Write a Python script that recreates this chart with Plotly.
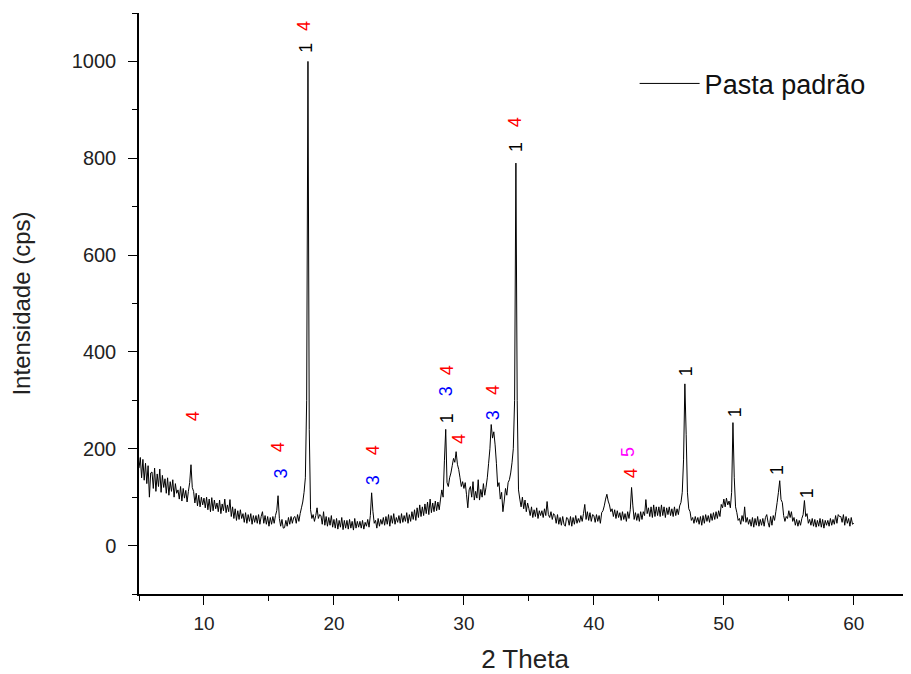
import numpy as np
import plotly.graph_objects as go

# 2-theta grid (0.1 deg step, 5.0 .. 60.0)
two_theta = np.round(np.arange(5.0, 60.0001, 0.1), 1)

# Intensity (cps), one row per degree
intensity = [
    160, 182, 140, 178, 135, 170, 128, 165, 100, 150,    # 5
    152, 118, 160, 112, 148, 122, 158, 110, 145, 120,    # 6
    138, 108, 140, 104, 132, 112, 136, 100, 128, 108,    # 7
    115, 96, 122, 92, 118, 98, 114, 90, 112, 130,        # 8
    167, 120, 112, 88, 108, 82, 104, 80, 100, 84,        # 9
    98, 78, 100, 74, 96, 70, 99, 72, 94, 76,             # 10
    88, 70, 94, 66, 86, 72, 96, 68, 84, 70,              # 11
    95, 60, 80, 56, 76, 52, 72, 54, 74, 56,              # 12
    66, 48, 68, 46, 64, 50, 66, 44, 62, 48,              # 13
    62, 46, 64, 44, 60, 70, 46, 62, 44, 60,              # 14
    40, 58, 44, 60, 46, 62, 72, 103, 56, 40,             # 15
    54, 36, 37, 52, 40, 58, 44, 60, 46, 58,              # 16
    60, 46, 64, 50, 66, 78, 90, 110, 140, 300,           # 17
    1000, 240, 74, 56, 64, 50, 62, 78, 56, 64,           # 18
    62, 44, 70, 42, 60, 40, 58, 42, 62, 38,              # 19
    54, 36, 56, 34, 52, 38, 58, 33, 52, 36,              # 20
    52, 34, 54, 36, 50, 32, 56, 36, 50, 38,              # 21
    50, 36, 52, 34, 48, 40, 54, 38, 62, 109,             # 22
    70, 46, 52, 36, 56, 40, 54, 44, 58, 42,              # 23
    60, 44, 64, 40, 62, 46, 66, 44, 58, 48,              # 24
    62, 46, 66, 48, 62, 50, 68, 46, 64, 50,              # 25
    70, 54, 74, 52, 78, 58, 84, 60, 80, 62,              # 26
    86, 66, 90, 64, 96, 68, 88, 70, 92, 72,              # 27
    90, 74, 96, 115, 100, 175, 240, 130, 122, 140,       # 28
    150, 165, 180, 172, 194, 168, 157, 140, 122, 132,    # 29
    118, 130, 105, 78, 115, 122, 100, 132, 94, 112,      # 30
    98, 136, 94, 116, 100, 128, 104, 120, 140, 170,      # 31
    200, 250, 222, 235, 208, 170, 122, 130, 96, 110,     # 32
    70, 92, 118, 104, 130, 136, 150, 171, 200, 300,      # 33
    790, 300, 115, 96, 80, 100, 76, 94, 70, 88,          # 34
    76, 62, 80, 58, 74, 60, 78, 56, 72, 62,              # 35
    72, 58, 76, 62, 91, 64, 58, 70, 54, 66,              # 36
    62, 46, 64, 44, 58, 42, 60, 44, 40, 58,              # 37
    56, 42, 60, 40, 58, 44, 62, 46, 56, 48,              # 38
    62, 50, 66, 85, 54, 70, 52, 68, 50, 64,              # 39
    62, 48, 64, 50, 62, 46, 68, 72, 82, 96,              # 40
    106, 92, 84, 70, 76, 60, 74, 56, 72, 58,             # 41
    68, 52, 70, 54, 66, 50, 70, 56, 74, 120,             # 42
    82, 54, 68, 52, 66, 50, 70, 54, 70, 62,              # 43
    95, 66, 78, 60, 80, 58, 84, 60, 80, 62,              # 44
    80, 60, 84, 62, 80, 58, 78, 64, 80, 62,              # 45
    76, 60, 80, 62, 76, 64, 82, 89, 110, 177,            # 46
    334, 230, 109, 76, 70, 52, 58, 46, 60, 48,           # 47
    58, 44, 60, 42, 62, 46, 64, 50, 62, 48,              # 48
    66, 52, 68, 54, 70, 56, 72, 60, 85, 78,              # 49
    96, 80, 98, 84, 92, 78, 110, 254, 140, 80,           # 50
    68, 52, 56, 44, 62, 50, 80, 48, 58, 44,              # 51
    54, 40, 58, 38, 56, 42, 60, 40, 54, 42,              # 52
    56, 40, 58, 64, 48, 38, 60, 42, 62, 52,              # 53
    70, 89, 110, 134, 95, 89, 62, 50, 60, 56,            # 54
    72, 58, 70, 50, 58, 42, 54, 40, 52, 42,              # 55
    56, 64, 93, 60, 66, 46, 54, 42, 56, 40,              # 56
    54, 38, 52, 40, 56, 38, 54, 36, 52, 42,              # 57
    52, 40, 56, 42, 54, 44, 62, 46, 64, 60,              # 58
    60, 48, 64, 42, 60, 46, 56, 40, 58, 44,              # 59
    46,                                                  # 60
]

# Phase labels: text, 2-theta, intensity position, colour
label_text = ["4", "1", "4", "3", "4", "3", "1", "4", "3", "4", "1",
              "3", "4", "1", "4", "5", "4", "1", "1", "1", "4"]
label_x = [17.65, 17.88, 15.65, 15.96, 22.96, 22.96, 28.65, 28.65, 28.6, 29.58, 34.0,
           32.19, 32.19, 47.04, 42.88, 42.58, 9.12, 50.88, 54.04, 56.35, 34.0]
label_y = [1074, 1029, 204, 150, 198, 136, 264, 363, 318, 221, 823,
           270, 322, 361, 150, 194, 266, 276, 157, 109, 874]
label_color = ["red", "black", "red", "blue", "red", "blue", "black", "red", "blue", "red", "black",
               "blue", "red", "black", "red", "magenta", "red", "black", "black", "black", "red"]

fig = go.Figure()
fig.add_trace(go.Scatter(
    x=two_theta, y=intensity, mode="lines",
    line=dict(color="black", width=1, simplify=False),
    name="Pasta padrão",
))

for t, xx, yy, c in zip(label_text, label_x, label_y, label_color):
    fig.add_annotation(
        x=xx, y=yy, text=t, showarrow=False, textangle=-90,
        font=dict(family="Liberation Sans", size=18, color=c),
        xanchor="center", yanchor="middle",
    )

# the page body has an 8px margin, so the figure is drawn 8px smaller
fig.update_layout(
    width=903, height=666,
    margin=dict(l=131, r=0, t=5, b=80),
    paper_bgcolor="white", plot_bgcolor="white",
    font=dict(family="Liberation Sans", color="#111"),
    showlegend=True,
    legend=dict(
        x=0.642, y=0.878, xanchor="left", yanchor="middle",
        font=dict(size=27, color="#111"),
        bgcolor="rgba(0,0,0,0)", itemwidth=60,
    ),
    xaxis=dict(
        range=[5, 64.4], tick0=0, dtick=10, automargin=False,
        showline=True, linecolor="black", linewidth=1.5,
        ticks="outside", ticklen=9, tickwidth=1.2, tickcolor="black",
        ticklabelstandoff=2,
        tickfont=dict(size=19, color="#222"),
        minor=dict(dtick=5, ticks="outside", ticklen=5, tickcolor="black", tickwidth=1),
        showgrid=False, zeroline=False,
        title=dict(text="2 Theta", font=dict(size=26, color="#222"), standoff=20),
    ),
    yaxis=dict(
        range=[-100, 1100], tickvals=[0, 200, 400, 600, 800, 1000], automargin=False,
        showline=True, linecolor="black", linewidth=1.5,
        ticks="outside", ticklen=9, tickwidth=1.2, tickcolor="black",
        ticklabelstandoff=8,
        tickfont=dict(size=20, color="#222"),
        minor=dict(tickvals=[-100, 100, 300, 500, 700, 900, 1100], ticks="outside",
                   ticklen=5, tickcolor="black", tickwidth=1),
        showgrid=False, zeroline=False,
        title=dict(text="Intensidade (cps)", font=dict(size=24, color="#222"), standoff=38),
    ),
)

fig.write_html("out.html")
